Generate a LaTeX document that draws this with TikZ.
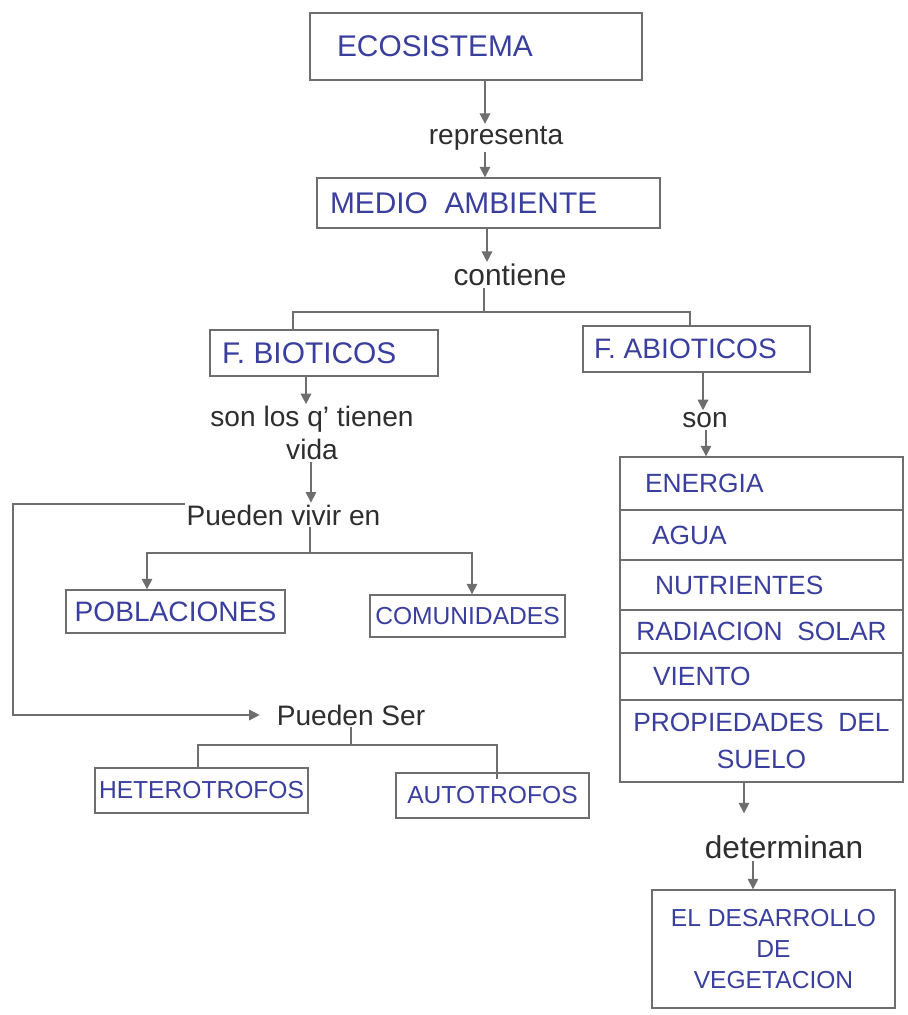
\documentclass[tikz,border=0pt]{standalone}
\usepackage{fontspec}
\setmainfont{Liberation Sans}
\usetikzlibrary{arrows.meta}
\definecolor{inkblue}{HTML}{3A3F9E}
\definecolor{pencil}{HTML}{6E6E6E}
\definecolor{ink}{HTML}{2E2E2E}
% fixed-width box line with the text pushed in from the left
\newcommand\padtext[3]{\makebox[#1][l]{\hspace{#2}#3}}
\begin{document}
\begin{tikzpicture}[x=0.02cm,y=-0.02cm,
  line/.style={draw=pencil,line width=0.9pt},
  arr/.style={line,-{Triangle[width=6pt,length=6pt]}},
  box/.style={draw=pencil,line width=0.8pt,text=inkblue,inner sep=0pt,anchor=center},
  tag/.style={text=ink,inner sep=1pt,font=\fontsize{16}{19}\selectfont},
  big/.style={font=\fontsize{17}{20}\selectfont},
  mid/.style={font=\fontsize{15}{21}\selectfont},
  small/.style={font=\fontsize{14}{17.5}\selectfont},
]
\useasboundingbox[fill=white] (0,0) rectangle (907,1015);

% main chain
\node[box,big,minimum height=1.34cm] (eco) at (476,46.5) {\padtext{6.64cm}{0.54cm}{ECOSISTEMA}};
\node[tag] (rep) at (496,138) {representa};
\node[box,big,minimum height=1.0cm] (medio) at (488.5,203) {\padtext{6.86cm}{0.26cm}{MEDIO\ \ AMBIENTE}};
\node[tag,font=\fontsize{17}{20}\selectfont] (cont) at (510,275) {contiene};

% the two kinds of factors
\node[box,big,minimum height=0.92cm] (bio) at (324,353) {\padtext{4.56cm}{0.24cm}{F.\ BIOTICOS}};
\node[box,font=\fontsize{16}{19}\selectfont,minimum height=0.92cm] (abio) at (696.5,349) {\padtext{4.54cm}{0.22cm}{F.\ ABIOTICOS}};

% biotic branch
\node[tag,align=center,font=\fontsize{16}{18.7}\selectfont] (vida) at (312,433) {son los q' tienen\\vida};
\node[tag] (pviv) at (283.5,515) {Pueden vivir en};
\node[box,font=\fontsize{16}{19}\selectfont,minimum width=4.38cm,minimum height=0.86cm] (pob) at (175.5,611.5) {POBLACIONES};
\node[box,small,minimum width=3.9cm,minimum height=0.84cm] (com) at (467.5,616) {COMUNIDADES};
\node[tag] (pser) at (351,715) {Pueden Ser};
\node[box,small,minimum width=4.26cm,minimum height=0.9cm] (het) at (201.5,790.5) {HETEROTROFOS};
\node[box,small,minimum width=3.86cm,minimum height=0.9cm] (aut) at (492.5,795.5) {AUTOTROFOS};

% abiotic branch
\node[tag] (son) at (705,420) {son};
\node[box,mid,minimum height=1.06cm] (r1) at (761.5,483.5) {\padtext{5.66cm}{0.5cm}{ENERGIA}};
\node[box,mid,minimum height=1.0cm] (r2) at (761.5,535) {\padtext{5.66cm}{0.64cm}{AGUA}};
\node[box,mid,minimum height=1.0cm] (r3) at (761.5,585) {\padtext{5.66cm}{0.7cm}{NUTRIENTES}};
\node[box,mid,minimum width=5.66cm,minimum height=0.86cm] (r4) at (761.5,631.5) {RADIACION\ \ SOLAR};
\node[box,mid,minimum height=0.94cm] (r5) at (761.5,676.5) {\padtext{5.66cm}{0.66cm}{VIENTO}};
\node[box,mid,align=center,minimum width=5.66cm,minimum height=1.64cm] (r6) at (761.5,741) {PROPIEDADES\ \ DEL\\SUELO};
\node[tag,font=\fontsize{18}{21}\selectfont] (det) at (784,847) {determinan};
\node[box,small,align=center,minimum width=4.86cm,minimum height=2.36cm] (des) at (773.5,949) {EL DESARROLLO\\DE\\VEGETACION};

% connectors of the main chain
\coordinate (k1) at (485,0);
\draw[arr] (eco.south -| k1) -- (rep.north -| k1);
\draw[arr] (rep.south -| k1) -- (medio.north -| k1);
\coordinate (k2) at (487,0);
\draw[arr] (medio.south -| k2) -- (cont.north -| k2);
\coordinate (j1) at (484,312);
\draw[line] (cont.south -| j1) -- (j1);
\draw[line] ([xshift=-0.62cm]bio.north) |- (j1) -| ([xshift=-0.13cm]abio.north);

% connectors of the biotic branch
\coordinate (k3) at (306,0);
\draw[arr] (bio.south -| k3) -- (vida.north -| k3);
\coordinate (k4) at (311,0);
\draw[arr] (vida.south -| k4) -- (pviv.north -| k4);
\coordinate (j2) at (310,553);
\draw[line] (pviv.south -| j2) -- (j2);
\draw[arr] (j2) -| ([xshift=-0.57cm]pob.north);
\draw[arr] (j2) -| ([xshift=0.09cm]com.north);
\coordinate (l1) at (13,610);
\draw[arr,shorten >=0.3cm] ([yshift=0.22cm]pviv.west) -| (l1) |- (pser.west);
\coordinate (j3) at (351,745);
\draw[line] (pser.south -| j3) -- (j3);
\draw[line] ([xshift=-0.07cm]het.north) |- (j3) -| ([xshift=0.09cm,yshift=-0.14cm]aut.north);

% connectors of the abiotic branch
\coordinate (k5) at (703,0);
\draw[arr] (abio.south -| k5) -- (son.north -| k5);
\coordinate (k6) at (706,0);
\draw[arr] (son.south -| k6) -- (r1.north -| k6);
\coordinate (k7) at (744,0);
\draw[arr,shorten >=0.4cm] (r6.south -| k7) -- (det.north -| k7);
\coordinate (k8) at (753,0);
\draw[arr] (det.south -| k8) -- (des.north -| k8);
\end{tikzpicture}
\end{document}
